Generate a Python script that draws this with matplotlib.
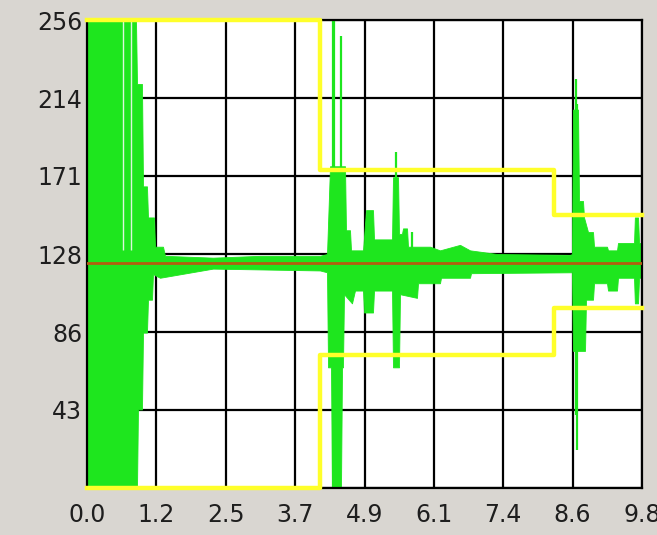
import matplotlib
matplotlib.use("Agg")
import matplotlib.pyplot as plt
import numpy as np

# ---- data ----
x_ticks = [0.0, 1.225, 2.45, 3.675, 4.9, 6.125, 7.35, 8.575, 9.8]
x_tick_labels = ["0.0", "1.2", "2.5", "3.7", "4.9", "6.1", "7.4", "8.6", "9.8"]
y_ticks = [0, 42.667, 85.333, 128, 170.667, 213.333, 256]
y_tick_labels = ["", "43", "86", "128", "171", "214", "256"]

# green signal: upper envelope
up_x = [0.0, 0.865, 0.883, 0.971, 0.989, 1.059, 1.077, 1.183, 1.201, 1.342, 1.377,
        2.225, 3.055, 4.114, 4.238, 4.291, 4.556, 4.573, 4.644, 4.662, 4.874, 4.927,
        5.050, 5.068, 5.386, 5.403, 5.492, 5.509, 5.562, 5.580, 5.651, 5.668, 6.057,
        6.233, 6.586, 6.763, 7.240, 8.529, 8.564, 8.582, 8.670, 8.688, 8.758, 8.776,
        8.847, 8.935, 8.953, 9.182, 9.200, 9.359, 9.376, 9.659, 9.674, 9.730, 9.748, 9.8]
up_v = [256, 256, 221, 221, 165, 165, 148, 148, 132, 132, 127,
        126, 127, 127, 128, 176, 176, 141, 141, 130, 130, 152,
        152, 136, 136, 170, 170, 139, 139, 142, 142, 132, 132,
        130, 133, 130, 128, 127.5, 128, 207, 207, 157, 157, 148,
        140, 140, 132, 132, 130, 130, 134, 134, 148, 148, 134, 134]

# green signal: lower envelope
lo_x = [0.0, 0.883, 0.900, 0.971, 0.989, 1.059, 1.077, 1.148, 1.165, 1.289,
        2.225, 4.114, 4.238, 4.256, 4.309, 4.326, 4.485, 4.503, 4.520, 4.538,
        4.679, 4.732, 4.874, 4.891, 5.050, 5.068, 5.386, 5.403, 5.509, 5.527,
        5.827, 5.845, 6.233, 6.251, 6.763, 6.781, 8.564, 8.582, 8.794, 8.811,
        8.935, 8.953, 9.182, 9.200, 9.359, 9.376, 9.659, 9.674, 9.730, 9.748, 9.8]
lo_v = [0, 0, 43, 43, 85, 85, 103, 103, 117, 115,
        120, 119, 118, 66, 66, 0, 0, 66, 66, 106,
        101, 108, 108, 96, 96, 108, 108, 66, 66, 106,
        104, 112, 112, 115, 115, 117.5, 118, 75, 75, 103,
        103, 112, 112, 108, 108, 115, 115, 101, 101, 115, 115]

# thin green spikes
spike_x = [4.344, 4.370, 4.485, 5.456, 5.739, 8.635, 8.652]
spike_hi = [256, 256, 247, 184, 140, 224, 210]
spike_lo = [0, 0, 60, 66, 110, 40, 21]

# light gaps inside the first burst
gap_x = [0.636, 0.777]
gap_hi = [256, 256]
gap_lo = [130, 130]

# yellow limit envelope (step)
lim_x = [0.0, 4.114, 8.246, 9.8]
lim_hi = [256, 174, 149.5, 149.5]
lim_lo = [0, 73, 98.5, 98.5]

baseline = 123

# ---- drawing ----
bg = "#d9d6d1"
fig = plt.figure(figsize=(6.57, 5.35), dpi=100, facecolor=bg)
ax = fig.add_axes([87/657, 47/535, 555/657, 468/535])
ax.set_facecolor("white")
ax.set_xlim(0, 9.8)
ax.set_ylim(0, 256)

ax.set_xticks(x_ticks)
ax.set_xticklabels(x_tick_labels)
ax.set_yticks(y_ticks)
ax.set_yticklabels(y_tick_labels)
ax.tick_params(length=0, labelsize=17, labelcolor="#1e1e1e")
ax.tick_params(axis="x", pad=11)
ax.tick_params(axis="y", pad=3.5)
ax.grid(True, color="black", linewidth=1.6, zorder=1)
ax.set_axisbelow(True)
for s in ax.spines.values():
    s.set_color("black")
    s.set_linewidth(1.6)
    s.set_zorder(3.7)

green = "#1ee61e"
xx = np.union1d(up_x, lo_x)
uu = np.interp(xx, up_x, up_v)
ll = np.interp(xx, lo_x, lo_v)
ax.fill_between(xx, ll, uu, color=green, linewidth=0.6, edgecolor=green, zorder=3)
ax.vlines(spike_x, spike_lo, spike_hi, color=green, linewidth=1.6, zorder=3)
ax.vlines(gap_x, gap_lo, gap_hi, color="#dcf7dc", linewidth=1.0, zorder=3.5)

yellow = "#ffff2a"
ax.step(lim_x, lim_hi, where="post", color=yellow, linewidth=3.2, zorder=3.8, clip_on=False)
ax.step(lim_x, lim_lo, where="post", color=yellow, linewidth=3.2, zorder=3.8, clip_on=False)

ax.axhline(baseline, color="#b25e10", linewidth=2.0, zorder=4)

fig.savefig("out.png", dpi=100, facecolor=bg)
